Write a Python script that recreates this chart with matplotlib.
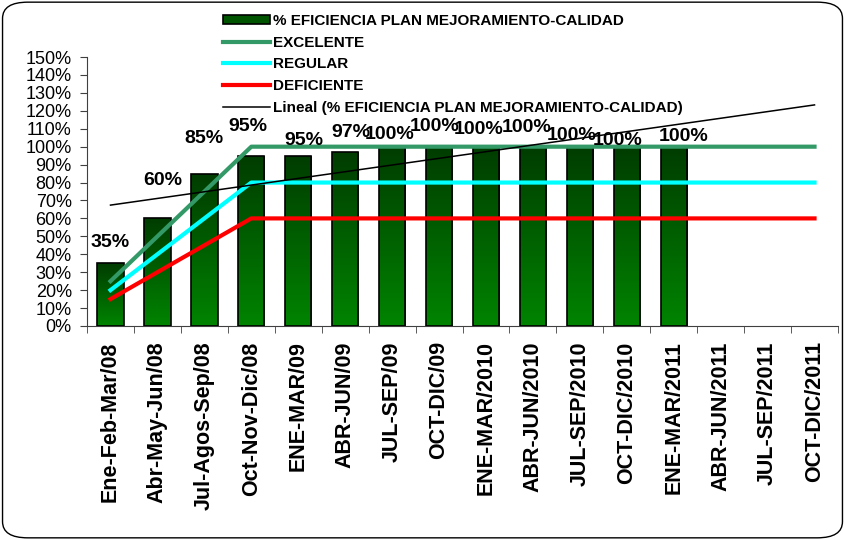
import numpy as np
import matplotlib
matplotlib.use('Agg')
import matplotlib.pyplot as plt
from matplotlib.colors import LinearSegmentedColormap
from matplotlib.patches import FancyBboxPatch, Patch
from matplotlib.lines import Line2D

plt.rcParams['font.family'] = ['Liberation Sans', 'DejaVu Sans']

periodos = ['Ene-Feb-Mar/08', 'Abr-May-Jun/08', 'Jul-Agos-Sep/08', 'Oct-Nov-Dic/08',
            'ENE-MAR/09', 'ABR-JUN/09', 'JUL-SEP/09', 'OCT-DIC/09',
            'ENE-MAR/2010', 'ABR-JUN/2010', 'JUL-SEP/2010', 'OCT-DIC/2010',
            'ENE-MAR/2011', 'ABR-JUN/2011', 'JUL-SEP/2011', 'OCT-DIC/2011']
eficiencia = [0.35, 0.60, 0.85, 0.95, 0.95, 0.97, 1.00, 1.00, 1.00, 1.00, 1.00, 1.00, 1.00]
excelente = [0.25, 0.50, 0.75, 1.00, 1.00, 1.00, 1.00, 1.00, 1.00, 1.00, 1.00, 1.00, 1.00, 1.00, 1.00, 1.00]
regular = [0.20, 0.40, 0.60, 0.80, 0.80, 0.80, 0.80, 0.80, 0.80, 0.80, 0.80, 0.80, 0.80, 0.80, 0.80, 0.80]
deficiente = [0.15, 0.30, 0.45, 0.60, 0.60, 0.60, 0.60, 0.60, 0.60, 0.60, 0.60, 0.60, 0.60, 0.60, 0.60, 0.60]

# desplazamiento de las etiquetas (pixeles), como quedaron en el original
label_dx = [0, 5, 0, -3, 6, 6, -2, -4, -7, -6, -8, -9, 10]
label_dy = [21, 38, 35, 29, 15, 20, 12, 20, 17, 19, 11, 6, 10]

VERDE = '#339966'

fig = plt.figure(figsize=(8.45, 5.40), dpi=100)
ax = fig.add_axes([0.103, 0.3963, 0.8887, 0.4981])

x_all = np.arange(len(periodos))
x_bar = np.arange(len(eficiencia))

# barras con degradado
cmap = LinearSegmentedColormap.from_list('verde', ['#008400', '#003c00'])
grad = np.linspace(0, 1, 256).reshape(-1, 1)
bars = ax.bar(x_bar, eficiencia, 0.56, color='none', edgecolor='black', linewidth=1.2, zorder=3)
for b in bars:
    x0, y0 = b.get_x(), b.get_y()
    img = ax.imshow(grad, cmap=cmap, origin='lower', aspect='auto',
                    extent=[x0, x0 + b.get_width(), y0, y0 + b.get_height()], zorder=2)
    img.set_clip_path(b)

ax.plot(x_all, excelente, color=VERDE, lw=3, zorder=4)
ax.plot(x_all, regular, color='#00ffff', lw=3, zorder=4)
ax.plot(x_all, deficiente, color='#ff0000', lw=3, zorder=4)

# linea de tendencia lineal de la eficiencia
coef = np.polyfit(x_bar, eficiencia, 1)
ax.plot(x_all, np.polyval(coef, x_all), color='black', lw=1.1, zorder=5)

for i, v in enumerate(eficiencia):
    ax.annotate('{:.0f}%'.format(v * 100), (x_bar[i], v), xytext=(label_dx[i], label_dy[i]),
                textcoords='offset pixels', ha='center', va='center',
                fontsize=14, fontweight='bold', zorder=6)

ax.set_xlim(-0.5, len(periodos) - 0.5)
ax.set_ylim(0, 1.5)
ax.set_yticks(np.arange(0, 1.51, 0.1))
ax.set_yticklabels(['{:.0f}%'.format(t * 100) for t in np.arange(0, 1.51, 0.1)], fontsize=13)
ax.set_xticks(x_all)
ax.set_xticklabels(periodos, rotation=90, fontsize=15.5, fontweight='bold')
ax.set_xticks(np.arange(-0.5, len(periodos)), minor=True)
ax.tick_params(axis='x', which='major', length=0, pad=11)
ax.tick_params(axis='x', which='minor', length=5, direction='out', color='#404040')
ax.tick_params(axis='y', length=5, direction='out', color='#404040', pad=6)
for s in ['top', 'right']:
    ax.spines[s].set_visible(False)
for s in ['left', 'bottom']:
    ax.spines[s].set_color('#404040')

handles = [Patch(facecolor='#005400', edgecolor='black', linewidth=1.2),
           Line2D([], [], color=VERDE, lw=3),
           Line2D([], [], color='#00ffff', lw=3),
           Line2D([], [], color='#ff0000', lw=3),
           Line2D([], [], color='black', lw=1.1)]
names = ['% EFICIENCIA PLAN MEJORAMIENTO-CALIDAD', 'EXCELENTE', 'REGULAR', 'DEFICIENTE',
         'Lineal (% EFICIENCIA PLAN MEJORAMIENTO-CALIDAD)']
fig.legend(handles, names, loc='upper left', bbox_to_anchor=(0.2545, 0.988), frameon=False,
           prop={'weight': 'bold', 'size': 11}, handlelength=3.1, handleheight=0.55,
           handletextpad=0.2, labelspacing=0.5, borderpad=0)

# borde redondeado del grafico
fig.patches.append(FancyBboxPatch((0.003, 0.004), 0.994, 0.992, boxstyle='round,pad=0,rounding_size=0.03',
                                  transform=fig.transFigure, fill=False, edgecolor='black', lw=1))

fig.savefig('out.png', dpi=100)
